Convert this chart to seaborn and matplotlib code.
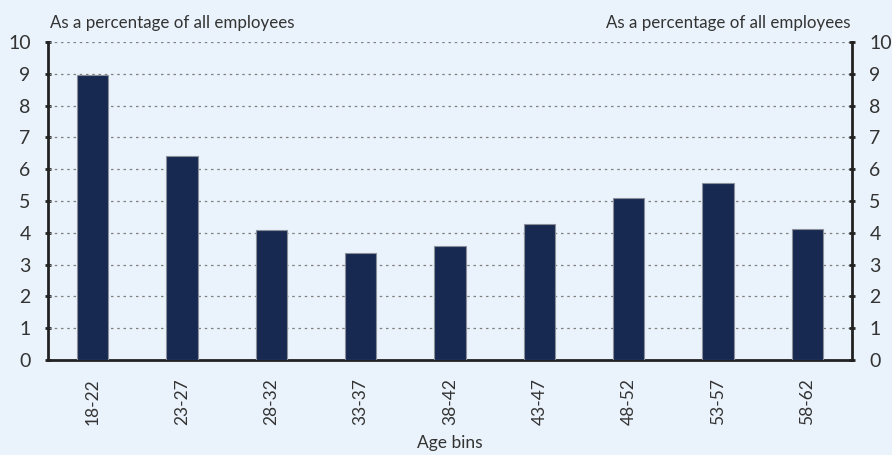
import pandas as pd
import numpy as np
import matplotlib
matplotlib.use("Agg")
import matplotlib.pyplot as plt
import seaborn as sns

# data
age_bins = ["18-22", "23-27", "28-32", "33-37", "38-42", "43-47", "48-52", "53-57", "58-62"]
share = [8.95, 6.4, 4.08, 3.35, 3.6, 4.28, 5.08, 5.56, 4.13]
y_ticks = list(range(0, 11))

bg = "#EAF3FB"
bar_col = "#172951"
txt = "#333333"

sns.set_theme(style="white")
plt.rcParams["font.family"] = ["Lato", "DejaVu Sans"]

df = pd.DataFrame({"age": age_bins, "share": share})

fig = plt.figure(figsize=(8.92, 4.55), dpi=100, facecolor=bg)
ax = fig.add_axes([0.0538, 0.2088, 0.9014, 0.6989])
ax.set_facecolor(bg)

sns.barplot(data=df, x="age", y="share", color=bar_col, width=0.35,
            edgecolor="#8a8f99", linewidth=0.8, saturation=1, ax=ax, zorder=3)

ax.set_ylim(0, 10)
ax.set_xlim(-0.5, len(age_bins) - 0.5)
ax.set_yticks(y_ticks)
ax.set_yticklabels([str(v) for v in y_ticks], fontsize=14, color=txt)
for v in y_ticks[1:]:
    ax.axhline(v, color="#7f7f7f", lw=0.9, ls=(0, (2, 3)), zorder=1)

ax.set_xticks(range(len(age_bins)))
ax.set_xticklabels(age_bins, rotation=90, fontsize=12.5, color=txt)
ax.tick_params(axis="x", length=0, pad=13)
ax.set_xticks(np.arange(-0.5, len(age_bins), 1), minor=True)
ax.tick_params(axis="x", which="minor", length=5, width=2, color="#222222", direction="out")
ax.tick_params(axis="y", length=5, width=2, color="#222222", direction="inout", pad=10)

ax.set_xlabel("")
ax.set_ylabel("")
fig.text(0.504, 0.026, "Age bins", fontsize=12.5, color=txt, ha="center", va="center")

for s in ["top", "right"]:
    ax.spines[s].set_visible(False)
for s in ["left", "bottom"]:
    ax.spines[s].set_color("#222222")
    ax.spines[s].set_linewidth(2)

ax2 = ax.twinx()
ax2.set_ylim(0, 10)
ax2.set_yticks(y_ticks)
ax2.set_yticklabels([str(v) for v in y_ticks], fontsize=14, color=txt)
ax2.tick_params(axis="y", length=5, width=2, color="#222222", direction="inout", pad=10)
for s in ["top", "left", "bottom"]:
    ax2.spines[s].set_visible(False)
ax2.spines["right"].set_color("#222222")
ax2.spines["right"].set_linewidth(2)

fig.text(0.056, 0.966, "As a percentage of all employees", fontsize=12.2, color=txt, va="top", ha="left")
fig.text(0.953, 0.966, "As a percentage of all employees", fontsize=12.2, color=txt, va="top", ha="right")

fig.savefig("out.png", dpi=100, facecolor=bg)
